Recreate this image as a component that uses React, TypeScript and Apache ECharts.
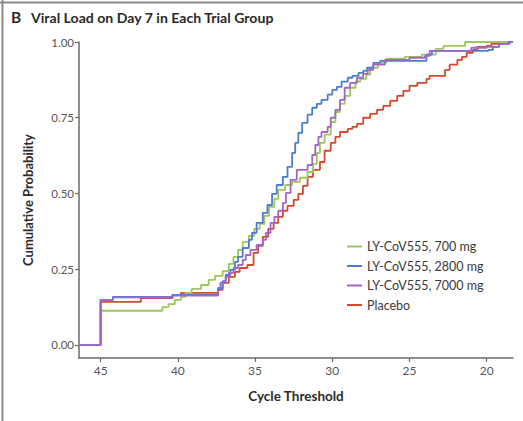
import { useEffect, useRef } from "react";
import * as echarts from "echarts";

const seriesNames = ["LY-CoV555, 700 mg", "LY-CoV555, 2800 mg", "LY-CoV555, 7000 mg", "Placebo"];
const seriesColors = ["#9dc75a", "#4a7dd2", "#a266c9", "#d9482c"];

const xTicks = [45, 40, 35, 30, 25, 20];
const yTicks = [0, 0.25, 0.5, 0.75, 1];

// LY-CoV555, 700 mg
const ct700 = [46.4, 45.0, 41.0, 40.6, 40.2, 39.8, 39.5, 39.1, 38.5, 38.0, 37.6, 37.1, 36.7, 36.4, 36.1, 35.8, 35.4, 35.05, 34.7, 34.4, 34.1, 33.75, 33.5, 33.05, 32.6, 32.1, 31.6, 31.25, 31.0, 30.8, 30.5, 30.1, 29.8, 29.5, 29.2, 28.85, 28.5, 28.2, 27.8, 27.55, 27.05, 26.5, 25.3, 24.2, 23.3, 22.8, 21.4, 18.3];
const prob700 = [0, 0.113, 0.125, 0.135, 0.149, 0.159, 0.172, 0.185, 0.198, 0.215, 0.228, 0.244, 0.268, 0.291, 0.314, 0.34, 0.36, 0.383, 0.4, 0.426, 0.456, 0.482, 0.512, 0.528, 0.538, 0.552, 0.571, 0.598, 0.634, 0.667, 0.694, 0.736, 0.769, 0.796, 0.822, 0.849, 0.869, 0.878, 0.892, 0.915, 0.931, 0.945, 0.951, 0.958, 0.977, 0.987, 1.0, 1.0];

// LY-CoV555, 2800 mg
const ct2800 = [46.4, 45.0, 44.2, 40.35, 37.4, 37.1, 36.9, 36.6, 36.3, 36.1, 35.8, 35.4, 35.2, 34.9, 34.5, 34.2, 33.9, 33.6, 33.2, 32.9, 32.6, 32.4, 32.2, 31.95, 31.6, 31.3, 31.0, 30.7, 30.3, 30.0, 29.7, 29.4, 29.0, 28.7, 28.3, 28.0, 27.75, 27.35, 26.9, 23.9, 23.55, 19.9, 19.6, 19.2, 18.6, 18.3];
const prob2800 = [0, 0.149, 0.159, 0.165, 0.188, 0.211, 0.231, 0.248, 0.274, 0.291, 0.32, 0.347, 0.37, 0.403, 0.436, 0.462, 0.499, 0.528, 0.555, 0.588, 0.634, 0.667, 0.7, 0.733, 0.76, 0.783, 0.796, 0.809, 0.826, 0.842, 0.852, 0.869, 0.882, 0.888, 0.898, 0.905, 0.915, 0.931, 0.938, 0.958, 0.971, 0.974, 0.984, 0.994, 1.0, 1.0];

// LY-CoV555, 7000 mg
const ct7000 = [46.4, 45.0, 44.2, 40.35, 37.4, 37.25, 36.9, 36.7, 36.4, 36.1, 35.8, 35.6, 35.3, 34.9, 34.5, 34.3, 34.0, 33.75, 33.5, 33.2, 33.0, 32.7, 32.3, 31.6, 31.3, 31.1, 30.9, 30.7, 30.3, 30.1, 29.8, 29.5, 29.2, 28.85, 28.4, 28.0, 27.7, 27.35, 26.6, 25.0, 24.0, 23.7, 21.0, 20.0, 19.2, 18.5, 18.3];
const prob7000 = [0, 0.149, 0.157, 0.163, 0.182, 0.205, 0.225, 0.238, 0.254, 0.264, 0.281, 0.297, 0.314, 0.33, 0.347, 0.37, 0.403, 0.423, 0.443, 0.469, 0.502, 0.545, 0.578, 0.594, 0.627, 0.66, 0.687, 0.703, 0.72, 0.75, 0.776, 0.809, 0.849, 0.865, 0.882, 0.895, 0.908, 0.925, 0.941, 0.948, 0.954, 0.971, 0.981, 0.984, 0.994, 1.0, 1.0];

// Placebo
const ctPlacebo = [46.4, 45.0, 42.4, 40.35, 39.8, 37.4, 37.1, 36.7, 36.3, 36.0, 35.5, 35.1, 34.8, 34.5, 34.15, 33.8, 33.5, 33.2, 32.9, 32.5, 32.2, 31.9, 31.6, 31.25, 30.8, 30.5, 30.1, 29.8, 29.5, 29.0, 28.7, 28.4, 28.0, 27.55, 27.1, 26.7, 26.25, 25.8, 25.4, 25.0, 24.5, 23.9, 23.7, 22.7, 22.4, 21.9, 21.6, 21.3, 20.9, 20.6, 20.0, 19.7, 19.2, 18.5, 18.3];
const probPlacebo = [0, 0.142, 0.155, 0.165, 0.172, 0.182, 0.205, 0.225, 0.241, 0.254, 0.264, 0.304, 0.327, 0.357, 0.383, 0.403, 0.423, 0.443, 0.459, 0.479, 0.499, 0.525, 0.555, 0.578, 0.604, 0.641, 0.667, 0.687, 0.703, 0.713, 0.72, 0.73, 0.75, 0.763, 0.776, 0.789, 0.806, 0.822, 0.839, 0.855, 0.865, 0.878, 0.888, 0.908, 0.925, 0.941, 0.951, 0.964, 0.974, 0.984, 0.987, 0.994, 0.997, 1.0, 1.0];

const groupCts = [ct700, ct2800, ct7000, ctPlacebo];
const groupProbs = [prob700, prob2800, prob7000, probPlacebo];

const FONT = "Lato";

export default function App() {
  const ref = useRef<HTMLDivElement>(null);
  useEffect(() => {
    if (!ref.current) return;
    const chart = echarts.init(ref.current, null, { renderer: "svg" });
    const drawOrder = [3, 0, 1, 2];
    const series = drawOrder.map((i) => ({
      name: seriesNames[i],
      type: "line",
      step: "end",
      showSymbol: false,
      symbol: "none",
      data: groupCts[i].map((c, k) => [c, groupProbs[i][k]]),
      lineStyle: { color: seriesColors[i], width: 1.8 },
      itemStyle: { color: seriesColors[i] },
    }));
    chart.setOption({
      animation: false,
      backgroundColor: "#ffffff",
      textStyle: { fontFamily: FONT },
      grid: { left: 79, right: 10, top: 42, bottom: 63 },
      legend: {
        data: seriesNames,
        orient: "vertical",
        left: 342,
        top: 235,
        itemWidth: 15,
        itemHeight: 2,
        itemGap: 6.5,
        icon: "rect",
        textStyle: { fontFamily: FONT, fontSize: 12.5, color: "#3a3a3a" },
      },
      xAxis: {
        type: "value",
        inverse: true,
        min: 18.3,
        max: 46.4,
        splitLine: { show: false },
        axisLine: { onZero: false, lineStyle: { color: "#6b6b6b", width: 1.5 } },
        axisTick: { show: true, customValues: xTicks, length: 4, lineStyle: { color: "#6b6b6b", width: 1.2 } },
        axisLabel: { customValues: xTicks, fontFamily: FONT, fontSize: 12, color: "#555", margin: 6 },
        name: "Cycle Threshold",
        nameLocation: "middle",
        nameGap: 31,
        nameTextStyle: { fontFamily: FONT, fontSize: 13.5, fontWeight: "bold", color: "#2a2a2a" },
      },
      yAxis: {
        type: "value",
        min: -0.043,
        max: 1.0,
        splitLine: { show: false },
        axisLine: { show: true, onZero: false, lineStyle: { color: "#6b6b6b", width: 1.5 } },
        axisTick: { show: true, customValues: yTicks, length: 4, lineStyle: { color: "#6b6b6b", width: 1.2 } },
        axisLabel: {
          customValues: yTicks,
          fontFamily: FONT,
          fontSize: 11.5,
          color: "#555",
          margin: 5,
          formatter: (v: number) => v.toFixed(2),
        },
        name: "Cumulative Probability",
        nameLocation: "middle",
        nameGap: 45,
        nameTextStyle: { fontFamily: FONT, fontSize: 13, fontWeight: "bold", color: "#2a2a2a" },
      },
      graphic: [
        { type: "line", shape: { x1: 0, y1: 2.5, x2: 523, y2: 2.5 }, style: { stroke: "#8a8a8a", lineWidth: 2 } },
        { type: "line", shape: { x1: 2.5, y1: 0, x2: 2.5, y2: 421 }, style: { stroke: "#8a8a8a", lineWidth: 2 } },
        {
          type: "text",
          left: 11,
          top: 9,
          style: { text: "B", fontFamily: FONT, fontSize: 15.5, fontWeight: "bold", fill: "#2a2a2a" },
        },
        {
          type: "text",
          left: 31,
          top: 10,
          style: {
            text: "Viral Load on Day 7 in Each Trial Group",
            fontFamily: FONT,
            fontSize: 14.1,
            fontWeight: "bold",
            fill: "#2a2a2a",
          },
        },
      ],
      series,
    });
    return () => chart.dispose();
  }, []);
  return (
    <div
      ref={ref}
      style={{ position: "fixed", left: 0, top: 0, width: 523, height: 421 }}
    />
  );
}
